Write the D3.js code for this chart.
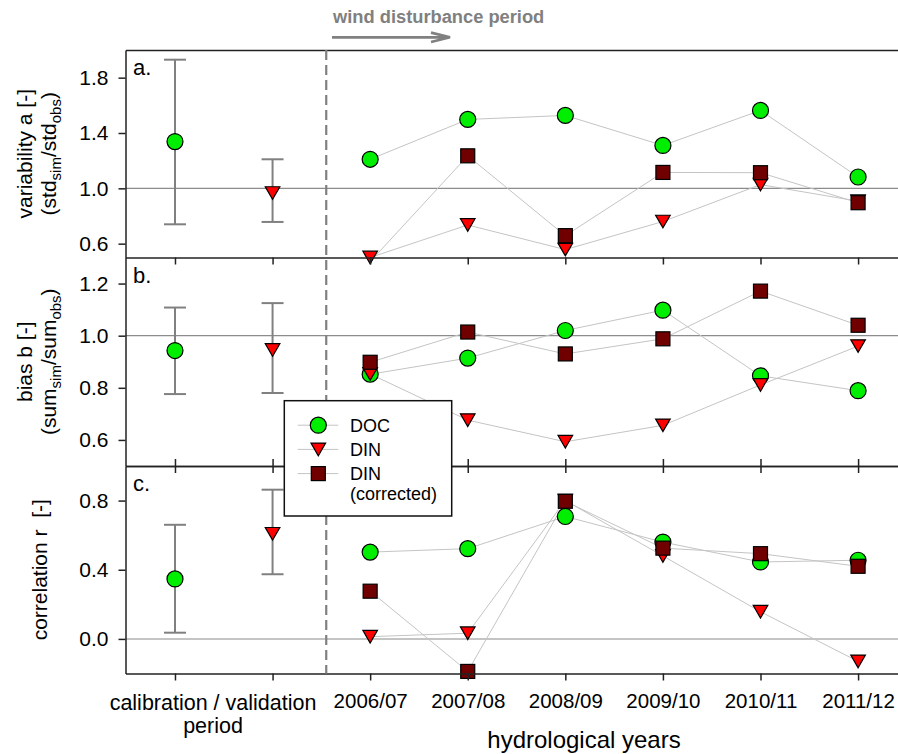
<!DOCTYPE html>
<html>
<head>
<meta charset="utf-8">
<script src="https://cdn.jsdelivr.net/npm/d3@7"></script>
<style>
  body { margin: 0; background: #fff; }
  svg { font-family: "Liberation Sans", Arial, sans-serif; }
</style>
</head>
<body>
<svg width="898" height="754"></svg>
<script>
// x positions: 0,1 = calibration / validation, 2..7 = hydrological years
var years = ["2006/07", "2007/08", "2008/09", "2009/10", "2010/11", "2011/12"];

// panel a. variability
var calA = [{v: 1.338, lo: 0.74, hi: 1.93}, {v: 0.966, lo: 0.757, hi: 1.21}];
var docA = [1.21, 1.498, 1.527, 1.31, 1.563, 1.082];
var dinA = [0.50, 0.735, 0.557, 0.76, 1.027, 0.907];
var dincA = [0.47, 1.235, 0.658, 1.115, 1.113, 0.896];

// panel b. bias
var calB = [{v: 0.943, lo: 0.776, hi: 1.108}, {v: 0.945, lo: 0.78, hi: 1.125}];
var docB = [0.852, 0.914, 1.02, 1.098, 0.846, 0.789];
var dinB = [0.853, 0.676, 0.593, 0.656, 0.811, 0.96];
var dincB = [0.898, 1.014, 0.93, 0.988, 1.171, 1.04];

// panel c. correlation
var calC = [{v: 0.347, lo: 0.036, hi: 0.66}, {v: 0.608, lo: 0.374, hi: 0.863}];
var docC = [0.502, 0.522, 0.708, 0.56, 0.445, 0.455];
var dinC = [0.013, 0.033, 0.80, 0.48, 0.157, -0.13];
var dincC = [0.276, -0.188, 0.796, 0.525, 0.493, 0.42];

var svg = d3.select("svg");

var x = d3.scaleLinear()
    .domain([-0.507, 7.45])
    .range([125.5, 902]);

var panels = [
  {top: 50, bottom: 257.5, domain: [0.5, 2.0], ticks: [0.6, 1.0, 1.4, 1.8], ref: 1.0, letter: "a.",
   cal: calA, doc: docA, din: dinA, dinc: dincA,
   label: ["variability a [-]", ["(std", "sim", "/std", "obs", ")"]]},
  {top: 257.5, bottom: 466, domain: [0.5, 1.3], ticks: [0.6, 0.8, 1.0, 1.2], ref: 1.0, letter: "b.",
   cal: calB, doc: docB, din: dinB, dinc: dincB,
   label: ["bias b [-]", ["(sum", "sim", "/sum", "obs", ")"]]},
  {top: 466, bottom: 673.5, domain: [-0.2, 1.0], ticks: [0.0, 0.4, 0.8], ref: 0.0, letter: "c.",
   cal: calC, doc: docC, din: dinC, dinc: dincC,
   label: ["correlation r\u00a0\u00a0[-]", null]}
];

var series = [
  {key: "doc", name: "DOC", shape: "circle", fill: "#00ee00"},
  {key: "din", name: "DIN", shape: "triangle", fill: "#ff0000"},
  {key: "dinc", name: "DIN", shape: "square", fill: "#700000"}
];

function marker(sel, shape, fill) {
  if (shape == "circle") {
    sel.append("circle").attr("r", 8);
  } else if (shape == "square") {
    sel.append("rect").attr("x", -7).attr("y", -7).attr("width", 14).attr("height", 14);
  } else {
    sel.append("path").attr("d", "M-7.3,-6.3L7.3,-6.3L0,6.3Z");
  }
  sel.selectAll("*").attr("fill", fill).attr("stroke", "#000").attr("stroke-width", 1.2);
}

var yearIdx = d3.range(2, 8);

panels.forEach(function(p, i) {
  var y = d3.scaleLinear().domain(p.domain).range([p.bottom, p.top]);
  var g = svg.append("g");

  svg.append("clipPath").attr("id", "clip" + i)
    .append("rect")
      .attr("x", x.range()[0]).attr("y", p.top)
      .attr("width", x.range()[1] - x.range()[0]).attr("height", p.bottom - p.top);

  // reference line
  g.append("line")
      .attr("x1", x.range()[0]).attr("x2", x.range()[1])
      .attr("y1", y(p.ref)).attr("y2", y(p.ref))
      .attr("stroke", i == 2 ? "#c4c4c4" : "#8c8c8c")
      .attr("stroke-width", i == 2 ? 2 : 1.2);

  // error bars for calibration / validation
  var eb = g.selectAll(".eb").data(p.cal).enter().append("g");
  eb.append("line")
      .attr("x1", function(d, j) { return x(j); })
      .attr("x2", function(d, j) { return x(j); })
      .attr("y1", function(d) { return y(d.lo); })
      .attr("y2", function(d) { return y(d.hi); });
  eb.append("line")
      .attr("x1", function(d, j) { return x(j) - 11; })
      .attr("x2", function(d, j) { return x(j) + 11; })
      .attr("y1", function(d) { return y(d.lo); })
      .attr("y2", function(d) { return y(d.lo); });
  eb.append("line")
      .attr("x1", function(d, j) { return x(j) - 11; })
      .attr("x2", function(d, j) { return x(j) + 11; })
      .attr("y1", function(d) { return y(d.hi); })
      .attr("y2", function(d) { return y(d.hi); });
  eb.selectAll("line").attr("stroke", "#808080").attr("stroke-width", 2);

  // connecting lines over the years
  var line = d3.line()
      .x(function(d, j) { return x(yearIdx[j]); })
      .y(function(d) { return y(d); });
  series.forEach(function(s) {
    g.append("path")
        .attr("clip-path", "url(#clip" + i + ")")
        .attr("d", line(p[s.key]))
        .attr("fill", "none")
        .attr("stroke", "#c4c4c4")
        .attr("stroke-width", 1);
  });

  // markers
  var inRange = function(v) { return v >= p.domain[0] - 1e-9 && v <= p.domain[1]; };
  series.forEach(function(s, k) {
    var pts = p[s.key].map(function(v, j) { return {x: yearIdx[j], v: v}; });
    if (k < 2) pts.unshift({x: k, v: p.cal[k].v});
    pts.filter(function(d) { return inRange(d.v); }).forEach(function(d) {
      var m = g.append("g").attr("transform", "translate(" + x(d.x) + "," + y(d.v) + ")");
      marker(m, s.shape, s.fill);
    });
  });

  // y axis
  var ya = svg.append("g")
      .attr("transform", "translate(" + x.range()[0] + ",0)")
      .call(d3.axisLeft(y).tickValues(p.ticks).tickFormat(d3.format(".1f"))
        .tickSize(7).tickSizeOuter(0).tickPadding(10));
  ya.selectAll("text").attr("font-size", 21).attr("fill", "#000").attr("font-family", null);
  ya.selectAll("line, path").attr("stroke", "#222").attr("stroke-width", 1.5);

  // bottom axis
  var xa = svg.append("g")
      .attr("transform", "translate(0," + p.bottom + ")")
      .call(d3.axisBottom(x).tickValues(d3.range(8))
        .tickFormat(function(d) { return (i == 2 && d >= 2) ? years[d - 2] : ""; })
        .tickSize(7).tickSizeOuter(0).tickPadding(13));
  xa.selectAll("text").attr("font-size", 20.5).attr("fill", "#000").attr("font-family", null);
  xa.selectAll("line, path").attr("stroke", "#222").attr("stroke-width", 1.5);

  if (i == 0) {
    var ta = svg.append("g")
        .attr("transform", "translate(0," + p.top + ")")
        .call(d3.axisTop(x).tickValues([]).tickSizeOuter(0));
    ta.selectAll("path").attr("stroke", "#222").attr("stroke-width", 1.5);
  }
  if (i == 2) {
    var tc = svg.append("g")
        .attr("transform", "translate(0," + p.top + ")")
        .call(d3.axisTop(x).tickValues(d3.range(8)).tickFormat("").tickSize(7).tickSizeOuter(0));
    tc.selectAll("line, path").attr("stroke", "#222").attr("stroke-width", 1.5);
  }

  // panel letter
  svg.append("text")
      .attr("x", 133).attr("y", p.top + 25)
      .attr("font-size", 22)
      .text(p.letter);

  // y label
  var cy = (p.top + p.bottom) / 2;
  if (p.label[1]) {
    svg.append("text")
        .attr("transform", "translate(31.5," + cy + ") rotate(-90)")
        .attr("text-anchor", "middle").attr("font-size", 21)
        .text(p.label[0]);
    var t2 = svg.append("text")
        .attr("transform", "translate(55.5," + cy + ") rotate(-90)")
        .attr("text-anchor", "middle").attr("font-size", 21);
    p.label[1].forEach(function(s, j) {
      var sub = j % 2 == 1;
      t2.append("tspan")
          .attr("dy", j == 0 ? 0 : (sub ? 5 : -5))
          .attr("font-size", sub ? 15 : 21)
          .text(s);
    });
  } else {
    svg.append("text")
        .attr("transform", "translate(47," + cy + ") rotate(-90)")
        .attr("text-anchor", "middle").attr("font-size", 21)
        .text(p.label[0]);
  }
});

// wind disturbance divider
svg.append("line")
    .attr("x1", x(1.55)).attr("x2", x(1.55))
    .attr("y1", panels[0].top).attr("y2", panels[2].bottom)
    .attr("stroke", "#808080").attr("stroke-width", 2.2)
    .attr("stroke-dasharray", "10,5");

svg.append("text")
    .attr("x", 333).attr("y", 23)
    .attr("font-size", 18.3).attr("font-weight", "bold").attr("fill", "#808080")
    .text("wind disturbance period");
svg.append("path")
    .attr("d", "M332,37.3L449,37.3M431,32.6L450,37.3L431,42")
    .attr("fill", "none").attr("stroke", "#808080").attr("stroke-width", 2.7);

// x labels
var cal = svg.append("text")
    .attr("text-anchor", "middle").attr("font-size", 21.5);
cal.append("tspan").attr("x", x(0.39)).attr("y", 710).text("calibration / validation");
cal.append("tspan").attr("x", x(0.39)).attr("y", 733).text("period");

svg.append("text")
    .attr("x", 584).attr("y", 748)
    .attr("text-anchor", "middle").attr("font-size", 24)
    .text("hydrological years");

// legend
var lg = svg.append("g").attr("transform", "translate(284.3,400.7)");
lg.append("rect")
    .attr("width", 167.4).attr("height", 115.3)
    .attr("fill", "#fff").attr("stroke", "#111").attr("stroke-width", 1.5);
var rows = lg.selectAll(".row").data(series).enter().append("g")
    .attr("transform", function(d, j) { return "translate(0," + (24.5 + j * 24.2) + ")"; });
rows.append("line")
    .attr("x1", 13.4).attr("x2", 54)
    .attr("stroke", "#c4c4c4").attr("stroke-width", 1);
rows.each(function(d) {
  var m = d3.select(this).append("g").attr("transform", "translate(34,0)");
  marker(m, d.shape, d.fill);
});
rows.append("text")
    .attr("x", 65.7).attr("y", 6.5)
    .attr("font-size", 18)
    .text(function(d) { return d.name; });
lg.append("text")
    .attr("x", 65.7).attr("y", 99)
    .attr("font-size", 18)
    .text("(corrected)");
</script>
</body>
</html>
